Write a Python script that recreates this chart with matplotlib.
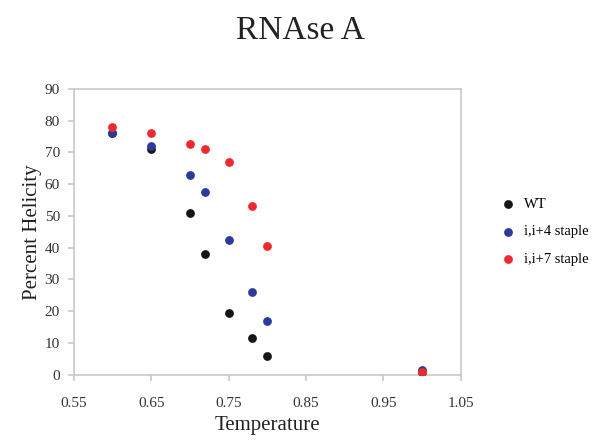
import matplotlib
matplotlib.use("Agg")
import matplotlib.pyplot as plt

plt.rcParams['font.family'] = ['Liberation Serif', 'DejaVu Serif']

temps = [0.60, 0.65, 0.70, 0.72, 0.75, 0.78, 0.80, 1.00]
wt = [76, 71, 51, 38, 19.5, 11.5, 6, 1]
staple4 = [76, 72, 63, 57.5, 42.5, 26, 17, 1.5]
staple7 = [78, 76, 72.5, 71, 67, 53, 40.5, 0.8]

series = [("WT", wt, "#161616"), ("i,i+4 staple", staple4, "#2b3b9c"), ("i,i+7 staple", staple7, "#ee2a2e")]

fig = plt.figure(figsize=(6, 4.42), dpi=100)
ax = fig.add_axes([0.123, 0.152, 0.645, 0.647])

for name, vals, col in series:
    ax.scatter(temps, vals, s=40, color=col, label=name, zorder=3, linewidths=0)

ax.set_xlim(0.55, 1.05)
ax.set_ylim(0, 90)
ax.set_xticks([0.55, 0.65, 0.75, 0.85, 0.95, 1.05])
ax.set_xticklabels(["0.55", "0.65", "0.75", "0.85", "0.95", "1.05"])
ax.set_yticks(range(0, 91, 10))
for sp in ax.spines.values():
    sp.set_color("#c8c8c8")
    sp.set_linewidth(1.2)
ax.tick_params(colors="#c8c8c8", labelcolor="#333333", labelsize=11, length=4, width=1.2)
ax.tick_params(axis="x", pad=12)
ax.tick_params(axis="y", pad=6)
ax.set_xlabel("Temperature", fontsize=15, color="#222222", labelpad=4)
ax.set_ylabel("Percent Helicity", fontsize=15, color="#222222", labelpad=2)
fig.suptitle("RNAse A", fontsize=24, y=0.965, color="#222222")

ax.legend(loc="center left", bbox_to_anchor=(1.05, 0.50), frameon=False,
          fontsize=10.5, handletextpad=0.1, labelspacing=1.0, markerscale=1.0)

fig.savefig("out.png", dpi=100)
